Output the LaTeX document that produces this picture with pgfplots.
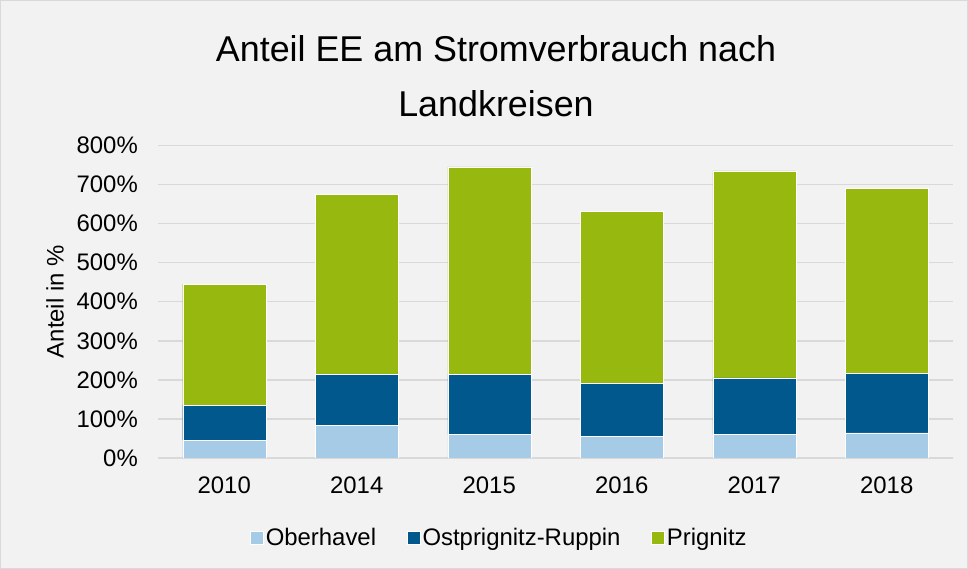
\documentclass[border=0pt]{standalone}
\usepackage{fontspec}
\setmainfont{Liberation Sans}
\usepackage{pgfplots}
\pgfplotsset{compat=1.18}
\definecolor{bgc}{HTML}{F2F2F2}
\definecolor{gridc}{HTML}{D9D9D9}
\definecolor{lightb}{HTML}{A6CBE7}
\definecolor{darkb}{HTML}{00588C}
\definecolor{greenc}{HTML}{97B90F}
\begin{document}
\begin{tikzpicture}
\fill[bgc] (0bp,0bp) rectangle (968bp,569bp);
\useasboundingbox (0bp,0bp) rectangle (968bp,569bp);
\draw[gridc, line width=1bp] (0.5bp,0.5bp) rectangle (967.5bp,568.5bp);
\node[anchor=base, inner sep=0pt, font=\fontsize{36}{40}\selectfont] at (496bp,507bp) {Anteil EE am Stromverbrauch nach};
\node[anchor=base, inner sep=0pt, font=\fontsize{36}{40}\selectfont] at (496bp,452bp) {Landkreisen};
\begin{axis}[
  at={(158bp,111bp)}, anchor=south west,
  scale only axis, width=795bp, height=312.5bp,
  ybar stacked, bar width=83bp,
  xmin=-0.5, xmax=5.5, ymin=0, ymax=800,
  xtick=data, xticklabels={2010,2014,2015,2016,2017,2018},
  ytick={0,100,...,800},
  yticklabel={\pgfmathprintnumber[assume math mode=true]{\tick}\%},
  major tick length=0pt,
  axis line style={draw=none},
  ymajorgrids, grid style={gridc, line width=1.5bp},
  tick label style={font=\fontsize{24}{28}\selectfont, text=black},
  xticklabel style={inner sep=0pt, yshift=-19bp},
  yticklabel style={inner sep=0pt, xshift=-20bp},
  ylabel={Anteil in \%},
  ylabel style={at={(axis description cs:-0.1296,0.5)}, anchor=center, font=\fontsize{24}{28}\selectfont},
  legend columns=3,
  legend style={at={(0.4296,-0.256)}, anchor=center, draw=none, fill=none,
    font=\fontsize{24}{28}\selectfont,
    nodes={inner sep=2.5bp},
    /tikz/every even column/.append style={column sep=28bp}},
  legend image code/.code={\fill[#1] (0bp,-6.5bp) rectangle (13bp,6.5bp);},
]
\addplot[fill=lightb, draw=white, line width=0.4bp] coordinates {(0,46) (1,83) (2,61) (3,56) (4,61) (5,64)};
\addplot[fill=darkb, draw=white, line width=0.4bp] coordinates {(0,89.5) (1,131) (2,153) (3,135) (4,144) (5,153)};
\addplot[fill=greenc, draw=white, line width=0.4bp] coordinates {(0,309.5) (1,461) (2,531) (3,440) (4,530) (5,473)};
\legend{Oberhavel,Ostprignitz-Ruppin,Prignitz}
\end{axis}
\end{tikzpicture}
\end{document}
